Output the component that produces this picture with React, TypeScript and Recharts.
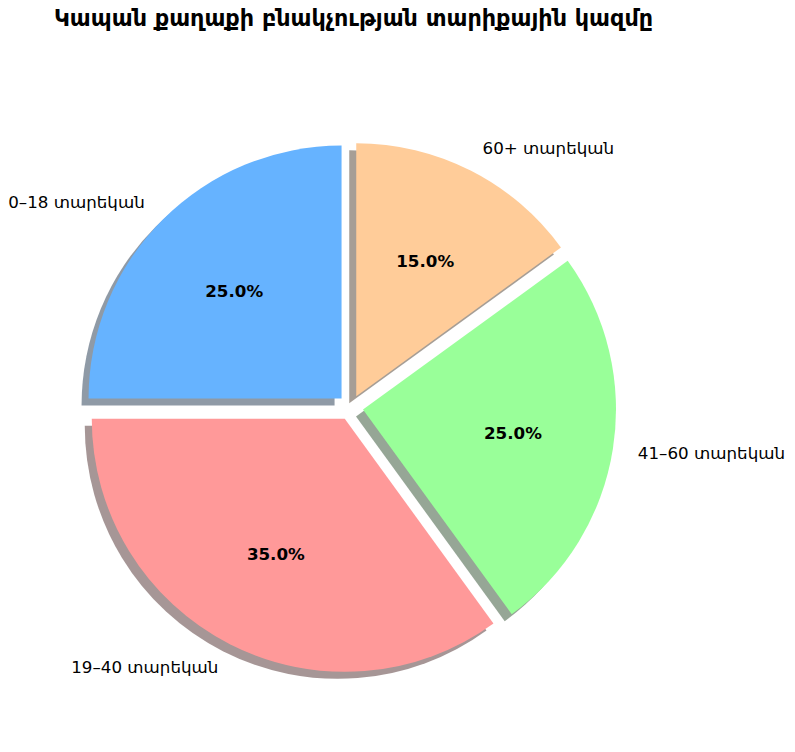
import React from 'react';
import { PieChart, Pie, Cell } from 'recharts';

const TITLE = 'Կապան քաղաքի բնակչության տարիքային կազմը';
const categories = ['0–18 տարեկան', '19–40 տարեկան', '41–60 տարեկան', '60+ տարեկան'];
const shares = [25, 35, 25, 15];
const colors = ['#66b3ff', '#ff9999', '#99ff99', '#ffcc99'];
const shadowColors = ['#1f364d', '#4d2e2e', '#2e4d2e', '#4d3d2e'];

const data = categories.map((name, i) => ({ name, value: shares[i] }));

const W = 795;
const H = 752;
const CX = 350.5;
const CY = 407.5;
const R = 253;
const EXPLODE = 0.05 * R;
const SHADOW = 7;
const RAD = Math.PI / 180;
const FONT = '"DejaVu Sans", sans-serif';

// mid angle of each wedge (start at 12 o'clock, counter-clockwise)
const total = shares.reduce((a, b) => a + b, 0);
const midAngles = shares.map((v, i) => {
  const before = shares.slice(0, i).reduce((a, b) => a + b, 0);
  return 90 + (360 * (before + v / 2)) / total;
});

const offsetOf = (i: number) => ({
  dx: EXPLODE * Math.cos(midAngles[i] * RAD),
  dy: -EXPLODE * Math.sin(midAngles[i] * RAD),
});

const makeLabel = (only: number) => (props: any) => {
  const { cx, cy, midAngle, outerRadius, index, percent } = props;
  if (index !== only) return null;
  const c = Math.cos(-midAngle * RAD);
  const s = Math.sin(-midAngle * RAD);
  const ox = cx + outerRadius * 1.1 * c;
  const oy = cy + outerRadius * 1.1 * s;
  const ix = cx + outerRadius * 0.6 * c;
  const iy = cy + outerRadius * 0.6 * s;
  return (
    <g key={`lbl-${index}`}>
      <text x={ox} y={oy} textAnchor={c < 0 ? 'end' : 'start'} dominantBaseline="central"
        fontFamily={FONT} fontSize={16.7} fill="#000">
        {categories[index]}
      </text>
      <text x={ix} y={iy} textAnchor="middle" dominantBaseline="central"
        fontFamily={FONT} fontSize={16.7} fontWeight="bold" fill="#000">
        {`${(percent * 100).toFixed(1)}%`}
      </text>
    </g>
  );
};

export default function App() {
  return (
    <div style={{ position: 'absolute', left: 0, top: 0, width: W, height: H, background: '#fff' }}>
      <div style={{
        position: 'absolute', left: 0, width: 707, top: 5, textAlign: 'center',
        fontFamily: FONT, fontWeight: 'bold', fontSize: 22.3, color: '#000',
      }}>
        {TITLE}
      </div>
      <PieChart width={W} height={H} margin={{ top: 0, right: 0, bottom: 0, left: 0 }}>
        {categories.map((_, i) => {
          const { dx, dy } = offsetOf(i);
          return (
            <Pie key={`shadow-${i}`} data={data} dataKey="value" nameKey="name"
              cx={CX + dx - SHADOW} cy={CY + dy + SHADOW} outerRadius={R}
              startAngle={90} endAngle={450} stroke="none" isAnimationActive={false}>
              {data.map((_, j) => (
                <Cell key={j} fill={j === i ? shadowColors[i] : 'none'} fillOpacity={j === i ? 0.5 : 0} />
              ))}
            </Pie>
          );
        })}
        {categories.map((_, i) => {
          const { dx, dy } = offsetOf(i);
          return (
            <Pie key={`main-${i}`} data={data} dataKey="value" nameKey="name"
              cx={CX + dx} cy={CY + dy} outerRadius={R}
              startAngle={90} endAngle={450} stroke="none" isAnimationActive={false}
              label={makeLabel(i)} labelLine={false}>
              {data.map((_, j) => (
                <Cell key={j} fill={j === i ? colors[i] : 'none'} fillOpacity={j === i ? 1 : 0} />
              ))}
            </Pie>
          );
        })}
      </PieChart>
    </div>
  );
}
